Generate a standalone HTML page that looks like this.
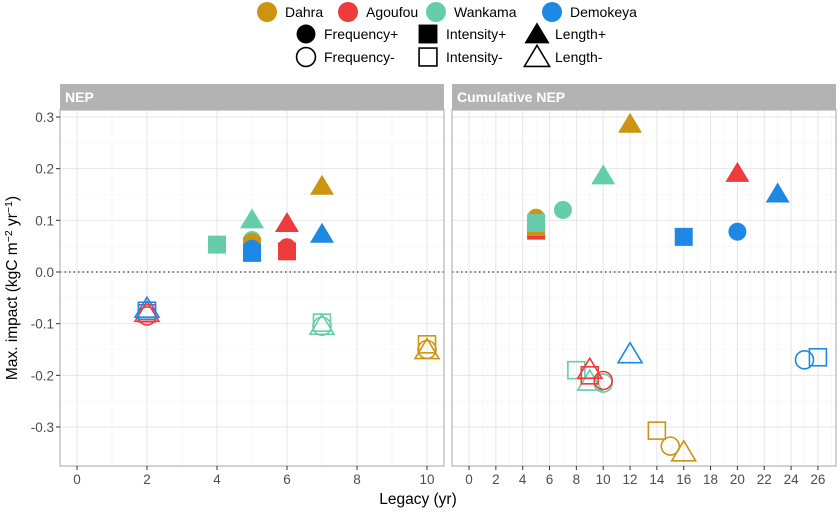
<!DOCTYPE html>
<html><head><meta charset="utf-8"><style>
body{margin:0;background:#fff;}
svg{display:block;font-family:"Liberation Sans",sans-serif;}
</style></head><body>
<svg id="chart" width="840" height="513" viewBox="0 0 840 513">
<g id="legend"></g>
<g id="panels"></g>
<text x="418" y="504" font-size="15.5" text-anchor="middle" fill="#000">Legacy (yr)</text>
<text transform="translate(17,288) rotate(-90)" font-size="15.5" text-anchor="middle" fill="#000">Max. impact (kgC m<tspan dy="-5" font-size="10.5">−2</tspan><tspan dy="5"> yr</tspan><tspan dy="-5" font-size="10.5">−1</tspan><tspan dy="5">)</tspan></text>
</svg>
<script>
const sites = ["Dahra","Agoufou","Wankama","Demokeya"];
const siteColors = ["#CC9410","#EE3B3B","#66CDAA","#1E88E5"];
const shapeLabels = ["Frequency+","Intensity+","Length+","Frequency-","Intensity-","Length-"];
const yTicks = [0.3,0.2,0.1,0.0,-0.1,-0.2,-0.3];
const nepX = [0,2,4,6,8,10];
const cumX = [0,2,4,6,8,10,12,14,16,18,20,22,24,26];
// [site index, metric, legacy, impact]
const nepPoints = [
 [2,"int+",4,0.053],[2,"len+",5,0.1],[2,"freq+",5,0.062],
 [0,"freq+",5,0.058],[0,"int+",5,0.05],[3,"freq+",5,0.045],[3,"int+",5,0.037],
 [1,"len+",6,0.093],[1,"freq+",6,0.048],[1,"int+",6,0.04],
 [0,"len+",7,0.165],[3,"len+",7,0.072],
 [1,"freq-",2,-0.085],[1,"int-",2,-0.08],[1,"len-",2,-0.08],
 [3,"int-",2,-0.075],[3,"len-",2,-0.072],
 [2,"int-",7,-0.098],[2,"freq-",7,-0.105],[2,"len-",7,-0.105],
 [0,"int-",10,-0.14],[0,"freq-",10,-0.15],[0,"len-",10,-0.152]
];
const cumPoints = [
 [0,"len+",12,0.285],[1,"len+",20,0.19],[3,"len+",23,0.15],[2,"len+",10,0.185],
 [2,"freq+",7,0.12],[0,"freq+",5,0.105],[1,"int+",5,0.08],[0,"int+",5,0.087],[2,"int+",5,0.095],
 [3,"int+",16,0.068],[3,"freq+",20,0.078],
 [3,"len-",12,-0.16],[3,"freq-",25,-0.17],[3,"int-",26,-0.165],
 [2,"int-",8,-0.19],[2,"len-",9,-0.213],[2,"freq-",10,-0.215],
 [1,"len-",9,-0.19],[1,"int-",9,-0.2],[1,"freq-",10,-0.21],
 [0,"int-",14,-0.307],[0,"freq-",15,-0.337],[0,"len-",16,-0.35]
];
const NS="http://www.w3.org/2000/svg";
function mk(tag,attrs,parent){const e=document.createElementNS(NS,tag);for(const k in attrs)e.setAttribute(k,attrs[k]);parent.appendChild(e);return e;}
function marker(parent,kind,cx,cy,color,scale){
  scale=scale||1;const filled=kind.endsWith("+");const t=kind.replace(/[+-]/,"");
  const st=filled?{fill:color,stroke:"none"}:{fill:"none",stroke:color,"stroke-width":1.6};
  let e;
  if(t==="freq"){e=mk("circle",Object.assign({cx:cx,cy:cy,r:9*scale},st),parent);}
  else if(t==="int"){const s=(filled?18:17)*scale;e=mk("rect",Object.assign({x:cx-s/2,y:cy-s/2,width:s,height:s},st),parent);}
  else{const w=12*scale;e=mk("polygon",Object.assign({points:`${cx},${cy-12*scale} ${cx-w},${cy+8*scale} ${cx+w},${cy+8*scale}`},st),parent);}
  return e;
}
const y0=110,y1=466;
function ys(v){return 272-v*516.7;}
function panel(opt){
  const g=mk("g",{},document.getElementById("panels"));
  
  
  mk("rect",{x:opt.x0,y:y0,width:opt.x1-opt.x0,height:y1-y0,fill:"#fff"},g);
  const xs=v=>opt.a+v*opt.k;
  for(let i=0;i<yTicks.length-1;i++){const v=(yTicks[i]+yTicks[i+1])/2;mk("line",{x1:opt.x0,x2:opt.x1,y1:ys(v),y2:ys(v),stroke:"#f2f2f2","stroke-width":0.6},g);}
  mk("line",{x1:opt.x0,x2:opt.x1,y1:ys(0.35),y2:ys(0.35),stroke:"#f2f2f2","stroke-width":0.6},g);
  for(let v=opt.ticks[0];v<=opt.ticks[opt.ticks.length-1]+opt.minorStep;v+=opt.minorStep){if(xs(v)<opt.x1)mk("line",{x1:xs(v),x2:xs(v),y1:y0,y2:y1,stroke:"#f2f2f2","stroke-width":0.6},g);}
  yTicks.forEach(v=>mk("line",{x1:opt.x0,x2:opt.x1,y1:ys(v),y2:ys(v),stroke:"#e6e6e6","stroke-width":1},g));
  opt.ticks.forEach(v=>mk("line",{x1:xs(v),x2:xs(v),y1:y0,y2:y1,stroke:"#e6e6e6","stroke-width":1},g));
  mk("line",{x1:opt.x0,x2:opt.x1,y1:ys(0),y2:ys(0),stroke:"#333","stroke-width":1.3,"stroke-dasharray":"1.5,3"},g);
  opt.points.forEach(p=>{const m=marker(g,p[1],xs(p[2]),ys(p[3]),siteColors[p[0]]);
    
    });
  mk("rect",{x:opt.x0,y:y0,width:opt.x1-opt.x0,height:y1-y0,fill:"none",stroke:"#b3b3b3","stroke-width":1.2},g);
  mk("rect",{x:opt.x0,y:84,width:opt.x1-opt.x0,height:26,fill:"#b3b3b3"},g);
  const st=mk("text",{x:opt.x0+5,y:102,"font-size":14,"font-weight":"bold",fill:"#fff"},g);st.textContent=opt.title;
  
  opt.ticks.forEach(v=>{mk("line",{x1:xs(v),x2:xs(v),y1:y1,y2:y1+4,stroke:"#333"},g);
    const t=mk("text",{x:xs(v),y:y1+18,"font-size":13.5,"text-anchor":"middle",fill:"#4d4d4d"},g);t.textContent=v;
    });
  if(opt.yLabels){yTicks.forEach(v=>{mk("line",{x1:opt.x0-4,x2:opt.x0,y1:ys(v),y2:ys(v),stroke:"#333"},g);
    const t=mk("text",{x:opt.x0-6,y:ys(v)+5,"font-size":13.5,"text-anchor":"end",fill:"#4d4d4d"},g);t.textContent=v.toFixed(1);
    });}
}
panel({name:"nep-panel",title:"NEP",x0:60,x1:444,a:77,k:35,ticks:nepX,minorStep:1,points:nepPoints,yLabels:true});
panel({name:"cumulative-nep-panel",title:"Cumulative NEP",x0:452,x1:836,a:469,k:13.42,ticks:cumX,minorStep:1,points:cumPoints,yLabels:false});
const lg=document.getElementById("legend");
const siteLX=[267,348,436,552];
sites.forEach((s,i)=>{const c=mk("circle",{cx:siteLX[i],cy:12,r:10,fill:siteColors[i]},lg);
  
  const t=mk("text",{x:siteLX[i]+18,y:17,"font-size":14,fill:"#000"},lg);t.textContent=s;
  });
const kinds=["freq+","int+","len+","freq-","int-","len-"];
const shapeLX=[306,428,537];
kinds.forEach((k,i)=>{const col=i%3,row=Math.floor(i/3);const cy=row?57:34;
  const m=marker(lg,k,shapeLX[col],cy+(k.startsWith("len")?1:0),"#000",1.05);
  
  
  const t=mk("text",{x:shapeLX[col]+18,y:cy+5,"font-size":14,fill:"#000"},lg);t.textContent=shapeLabels[i];
  });
</script>
</body></html>
